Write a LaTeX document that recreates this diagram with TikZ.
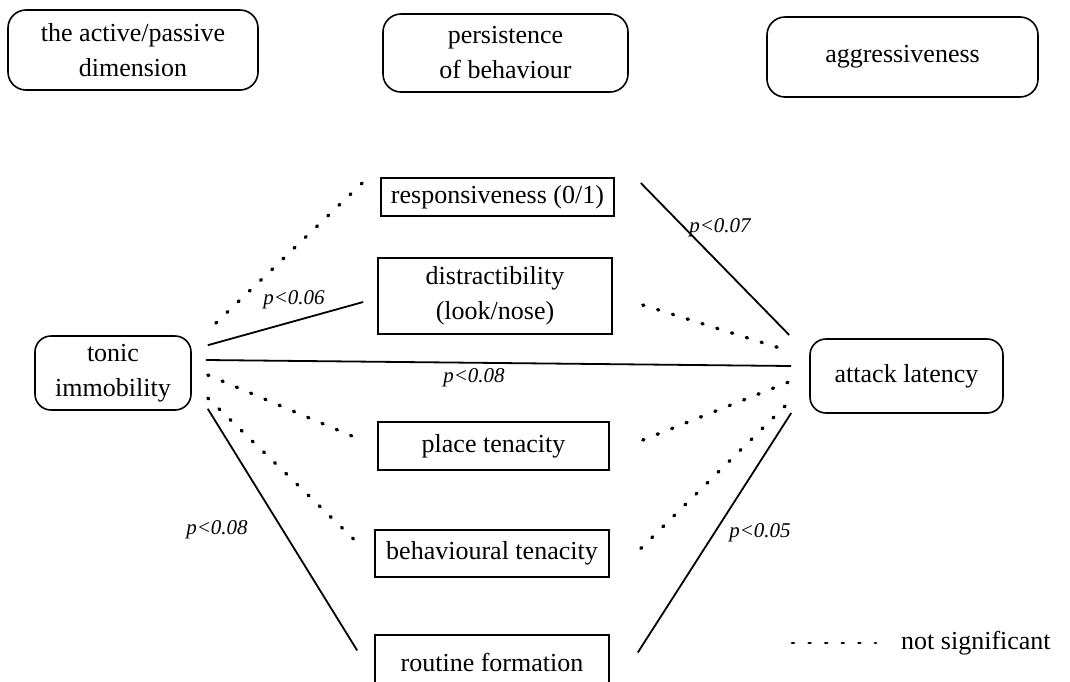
\documentclass[tikz,border=0pt]{standalone}
\usepackage{fontspec}
\setmainfont{Liberation Serif}
\begin{document}
\begin{tikzpicture}[x=1pt,y=-1pt,
  every node/.style={font=\fontsize{26}{35}\selectfont, align=center, inner sep=0pt},
  rbox/.style={draw, line width=1.6pt, rounded corners=18pt},
  sbox/.style={draw, line width=1.6pt},
  sig/.style={line width=1.8pt},
  nsig/.style={line width=3.4pt, line cap=round, dash pattern=on 1.2pt off 14.3pt},
  plab/.style={font=\fontsize{21}{24}\selectfont\itshape}]
\useasboundingbox (0,0) rectangle (1070,681);
% header boxes
\node[rbox, minimum width=250pt, minimum height=80pt] (ap) at (133,50) {the active/passive\\dimension};
\node[rbox, minimum width=245pt, minimum height=78pt] (pb) at (505.5,53) {persistence\\of behaviour};
\node[rbox, minimum width=271pt, minimum height=80pt] (ag) at (902.5,57) {aggressiveness};
% middle boxes
\node[sbox, minimum width=233pt, minimum height=38pt] (resp) at (497.5,197) {responsiveness (0/1)};
\node[sbox, minimum width=234pt, minimum height=76pt] (dist) at (495,296) {distractibility\\(look/nose)};
\node[sbox, minimum width=231pt, minimum height=48pt] (place) at (493.5,446) {place tenacity};
\node[sbox, minimum width=234pt, minimum height=47pt] (beh) at (492,553.5) {behavioural tenacity};
\node[sbox, minimum width=234pt, minimum height=55pt] (rout) at (492,662.5) {routine formation};
% side boxes
\node[rbox, rounded corners=16pt, minimum width=156pt, minimum height=74pt] (ti) at (113,373) {tonic\\immobility};
\node[rbox, rounded corners=16pt, minimum width=193pt, minimum height=74pt] (al) at (906.5,376) {attack latency};
% connectors from tonic immobility
\draw[nsig] ([shift={(24,-12)}]ti.north east) -- ([shift={(-18,-14)}]resp.west);
\draw[sig] ([shift={(16,10)}]ti.north east) -- ([shift={(-14,6)}]dist.west);
\draw[sig] ([shift={(14,-13)}]ti.east) -- ([shift={(-18,-10)}]al.west);
\draw[nsig] ([shift={(16,2)}]ti.east) -- ([shift={(-23,-9)}]place.west);
\draw[nsig] ([shift={(16,25)}]ti.east) -- ([shift={(-18,-12)}]beh.west);
\draw[sig] ([shift={(16,-2)}]ti.south east) -- ([shift={(-17,-12)}]rout.west);
% connectors to attack latency
\draw[sig] ([shift={(26,-14)}]resp.east) -- ([shift={(-20,-41)}]al.west);
\draw[nsig] ([shift={(30,9)}]dist.east) -- ([shift={(-20,-25)}]al.west);
\draw[nsig] ([shift={(33,-6)}]place.east) -- ([shift={(-18,5)}]al.west);
\draw[nsig] ([shift={(31,-5)}]beh.east) -- ([shift={(-18,24)}]al.west);
\draw[sig] ([shift={(28,-10)}]rout.east) -- ([shift={(-18,37)}]al.west);
% p labels
\node[plab] (l1) at (294,300) {p<0.06};
\node[plab] (l2) at (474,378) {p<0.08};
\node[plab] (l3) at (720,228) {p<0.07};
\node[plab] (l4) at (217,530) {p<0.08};
\node[plab] (l5) at (760,533) {p<0.05};
% legend
\coordinate (lg1) at (792,643);
\coordinate (lg2) at (876,643);
\draw[line width=2.6pt, line cap=round, dash pattern=on 2pt off 14.6pt] (lg1) -- (lg2);
\node[anchor=west] (ns) at (901,643) {not significant};
\end{tikzpicture}
\end{document}
